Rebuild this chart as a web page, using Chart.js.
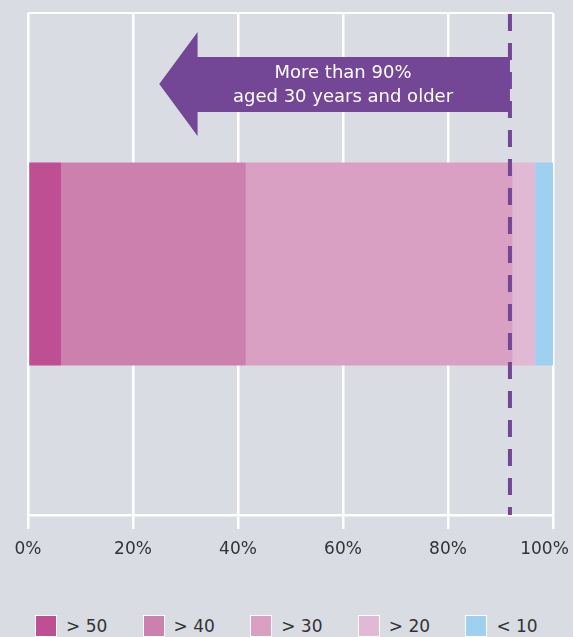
<!DOCTYPE html>
<html>
<head>
<meta charset="utf-8">
<script src="https://cdn.jsdelivr.net/npm/chart.js@4/dist/chart.umd.min.js"></script>
<style>
    html, body {
        margin: 0;
        padding: 0;
        background: #d9dce3;
        overflow: hidden;
        width: 573px;
        height: 637px;
    }
    #wrap {
        position: relative;
        width: 573px;
        height: 600px;
    }
    #legend {
        display: flex;
        margin: 15px 0 0 35px;
        font: 17px "DejaVu Sans", sans-serif;
        color: #333;
    }
    #legend .item {
        width: 111px;
        display: flex;
        align-items: center;
        height: 22px;
    }
    #legend .box {
        width: 20px;
        height: 20px;
        border: 1px solid #fff;
        margin-right: 9px;
    }
</style>
</head>
<body>
<div id="wrap"><canvas id="chart" width="573" height="600"></canvas></div>
<div id="legend"></div>
<script>
"use strict";

// data
const categories = [''];
const groups = ['> 50', '> 40', '> 30', '> 20', '< 10'];
const shares = [6.3, 35.2, 50.8, 4.3, 3.4];
const colors = ['#bd4f92', '#cc80ae', '#d9a0c3', '#e2b9d4', '#9dd1ef'];
const xTicks = [0, 20, 40, 60, 80, 100];

// the 90% marker
const markerValue = 91.8;
const arrowTipValue = 25;
const arrowHeadValue = 32.3;
const arrowTextValue = 60;
const arrowLines = ['More than 90%', 'aged 30 years and older'];

const purple = '#744696';
const FONT = '"DejaVu Sans", sans-serif';

const markerPlugin = {
    id: 'marker',
    afterDatasetsDraw(chart) {
        const {ctx, chartArea} = chart,
            x = chart.scales.x,
            xEnd = x.getPixelForValue(markerValue),
            xTip = x.getPixelForValue(arrowTipValue),
            xHead = x.getPixelForValue(arrowHeadValue),
            cy = chartArea.top + 71;

        ctx.save();
        // arrow
        ctx.fillStyle = purple;
        ctx.beginPath();
        ctx.moveTo(xTip, cy);
        ctx.lineTo(xHead, cy - 52);
        ctx.lineTo(xHead, cy - 27);
        ctx.lineTo(xEnd, cy - 27);
        ctx.lineTo(xEnd, cy + 28);
        ctx.lineTo(xHead, cy + 28);
        ctx.lineTo(xHead, cy + 52);
        ctx.closePath();
        ctx.fill();

        ctx.fillStyle = '#fff';
        ctx.font = '18px ' + FONT;
        ctx.textAlign = 'center';
        ctx.textBaseline = 'middle';
        const tx = x.getPixelForValue(arrowTextValue);
        ctx.fillText(arrowLines[0], tx, cy - 11);
        ctx.fillText(arrowLines[1], tx, cy + 13);

        // dashed line
        ctx.strokeStyle = purple;
        ctx.lineWidth = 4;
        ctx.setLineDash([17, 12]);
        ctx.beginPath();
        ctx.moveTo(xEnd, chartArea.top + 1);
        ctx.lineTo(xEnd, chartArea.bottom);
        ctx.stroke();
        ctx.restore();
    }
};

const chart = new Chart(document.getElementById('chart'), {
    type: 'bar',
    data: {
        labels: categories,
        datasets: groups.map((g, i) => ({
            label: g,
            data: [shares[i]],
            backgroundColor: colors[i],
            borderWidth: 0,
            barPercentage: 0.404,
            categoryPercentage: 1
        }))
    },
    options: {
        indexAxis: 'y',
        responsive: false,
        animation: false,
        layout: {padding: {top: 13, left: 0, right: 0, bottom: 0}},
        plugins: {
            legend: {display: false},
            tooltip: {enabled: false}
        },
        scales: {
            x: {
                stacked: true,
                min: 0,
                max: 100,
                afterBuildTicks: s => { s.ticks = xTicks.map(v => ({value: v})); },
                ticks: {
                    // last label sits a little inside the edge, as in the picture
                    callback: v => v === 100 ? v + '%\u2003' : v + '%',
                    color: '#333',
                    font: {family: FONT, size: 17},
                    padding: 10,
                    maxRotation: 0
                },
                grid: {color: '#fff', lineWidth: 2.5, tickLength: 14},
                border: {color: '#fff', width: 2.5},
                afterFit: s => { s.paddingRight = 20; s.height = 85; }
            },
            y: {
                stacked: true,
                ticks: {display: false},
                grid: {color: '#fff', lineWidth: 2, drawTicks: false, offset: true},
                border: {display: false},
                afterFit: s => { s.width = 28; }
            }
        }
    },
    plugins: [markerPlugin]
});

// legend below the canvas
const legend = document.getElementById('legend');
chart.data.datasets.forEach(ds => {
    const item = document.createElement('div'),
        box = document.createElement('span'),
        txt = document.createElement('span');
    item.className = 'item';
    box.className = 'box';
    box.style.background = ds.backgroundColor;
    txt.textContent = ds.label;
    item.append(box, txt);
    legend.append(item);
});
</script>
</body>
</html>
